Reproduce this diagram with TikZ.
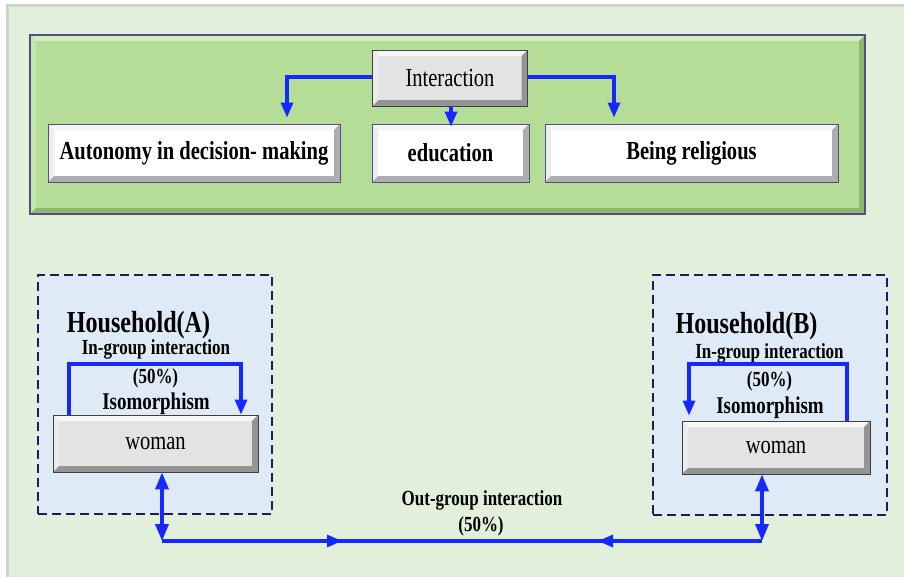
\documentclass[tikz,border=0pt]{standalone}
\usepackage{fontspec}
\setmainfont{Liberation Serif}[FakeStretch=0.79]
\usetikzlibrary{arrows.meta}
\definecolor{bgreen}{RGB}{226,239,218}
\definecolor{pgreen}{RGB}{181,221,151}
\definecolor{pgreenL}{RGB}{212,237,192}
\definecolor{pgreenM}{RGB}{196,229,172}
\definecolor{pgreenD}{RGB}{140,184,110}
\definecolor{hblue}{RGB}{222,234,246}
\definecolor{navy}{RGB}{30,28,90}
\definecolor{bord}{RGB}{80,78,130}
\definecolor{blueln}{RGB}{20,40,255}
\definecolor{greyB}{RGB}{227,227,227}
\tikzset{
  bevel/.style n args={4}{fill=#1, path picture={
    \path (path picture bounding box.north west) coordinate (pnw)
          (path picture bounding box.south east) coordinate (pse);
    \fill[#2] (pnw) -- (pnw -| pse) -- ([xshift=-6pt,yshift=-6pt]pnw -| pse) -- ([xshift=6pt,yshift=-6pt]pnw) -- cycle;
    \fill[#3] (pnw) -- (pnw |- pse) -- ([xshift=6pt,yshift=6pt]pnw |- pse) -- ([xshift=6pt,yshift=-6pt]pnw) -- cycle;
    \fill[#4] (pse) -- (pse -| pnw) -- ([xshift=6pt,yshift=6pt]pse -| pnw) -- ([xshift=-6pt,yshift=6pt]pse) -- cycle;
    \fill[#4] (pse) -- (pse |- pnw) -- ([xshift=-6pt,yshift=-6pt]pse |- pnw) -- ([xshift=-6pt,yshift=6pt]pse) -- cycle;
  }},
  panel/.style={draw=bord, line width=1.2pt, bevel={pgreen}{pgreenL}{pgreenM}{pgreenD}, inner sep=0pt},
  whitebox/.style={draw=bord, line width=0.9pt, bevel={white}{white!96!black}{white!93!black}{white!68!black}, inner sep=0pt, font=\fontsize{26}{29}\selectfont\bfseries},
  greybox/.style={draw=black!75, line width=0.9pt, bevel={greyB}{white!97!black}{white!92!black}{white!58!black}, inner sep=0pt, font=\fontsize{26}{29}\selectfont},
  hhbox/.style={draw=navy, fill=hblue, line width=1.6pt, dash pattern=on 9pt off 5pt, inner sep=0pt},
  hhtitle/.style={font=\fontsize{30.5}{33}\selectfont\bfseries, inner sep=0pt},
  smalllbl/.style={font=\fontsize{21.5}{24}\selectfont\bfseries, inner sep=0pt},
  isolbl/.style={font=\fontsize{24}{27}\selectfont\bfseries, inner sep=0pt},
  arr/.style={draw=blueln, line width=3.2pt, -{Triangle[length=15pt,width=12pt]}},
  dbl/.style={draw=blueln, line width=3.6pt, {Triangle[length=17pt,width=13pt]}-{Triangle[length=17pt,width=13pt]}},
  hline/.style={draw=blueln, line width=3.2pt},
}
\begin{document}
\begin{tikzpicture}[x=1pt,y=-1pt]
\useasboundingbox (0,0) rectangle (904,578);
\fill[white] (0,0) rectangle (904,578);
\fill[black!18] (6,4) rectangle (904,577);
\fill[bgreen] (9,7) rectangle (904,577);

% top panel
\node[panel, minimum width=835pt, minimum height=179pt] (panel) at (447.5,124.5) {};
\node[greybox, minimum width=155pt, minimum height=56pt] (inter) at (450,78) {Interaction};
\node[whitebox, minimum width=292pt, minimum height=58pt] (auto) at (194,153) {Autonomy in decision- making};
\node[whitebox, minimum width=157pt, minimum height=58pt] (edu) at (450.5,153) {education};
\node[whitebox, minimum width=293pt, minimum height=58pt] (rel) at (691.5,153) {Being religious};

\coordinate (tl) at (287,77);
\coordinate (tr) at (614,77);
\draw[arr, shorten >=6pt] (inter.west |- tl) -- (tl) -- (tl |- auto.north);
\draw[arr, shorten >=6pt] (inter.east |- tr) -- (tr) -- (tr |- rel.north);
\draw[arr, shorten >=-3pt] (inter.south -| 451,0) -- (edu.north -| 451,0);

% household A
\node[hhbox, minimum width=234pt, minimum height=239pt] (hhA) at (155,394.5) {};
\node[hhtitle] (titA) at (138.5,325) {Household(A)};
\node[smalllbl] (inA) at (156,349) {In-group interaction};
\node[smalllbl] (pA) at (155.5,378) {(50\%)};
\node[isolbl] (isoA) at (156,404) {Isomorphism};
\node[greybox, minimum width=205pt, minimum height=57pt] (wA) at (155.5,443.5) {woman};
\coordinate (a1) at (69,364);
\coordinate (a2) at (241,364);
\draw[arr] (wA.north -| a1) -- (a1) -- (a2) -- (wA.north -| a2);

% household B
\node[hhbox, minimum width=234pt, minimum height=240pt] (hhB) at (770,395) {};
\node[hhtitle] (titB) at (746.5,326) {Household(B)};
\node[smalllbl] (inB) at (769.5,353) {In-group interaction};
\node[smalllbl] (pB) at (769.5,381) {(50\%)};
\node[isolbl] (isoB) at (770,408) {Isomorphism};
\node[greybox, minimum width=188pt, minimum height=53pt] (wB) at (776,447.5) {woman};
\coordinate (b1) at (847,364);
\coordinate (b2) at (689,364);
\draw[arr, shorten >=5pt] (wB.north -| b1) -- (b1) -- (b2) -- (wB.north -| b2);

% out-group
\coordinate (cA) at (162,541);
\coordinate (cB) at (762,541);
\coordinate (m1) at (342,541);
\coordinate (m2) at (598,541);
\draw[hline] (cA) -- (cB);
\draw[arr] (cA) -- (m1);
\draw[arr] (cB) -- (m2);
\draw[dbl] (wA.south -| cA) -- (cA);
\draw[dbl] (wB.south -| cB) -- (cB);
\node[smalllbl] (outl) at (482,500) {Out-group interaction};
\node[smalllbl] (outp) at (481,526) {(50\%)};
\end{tikzpicture}
\end{document}
